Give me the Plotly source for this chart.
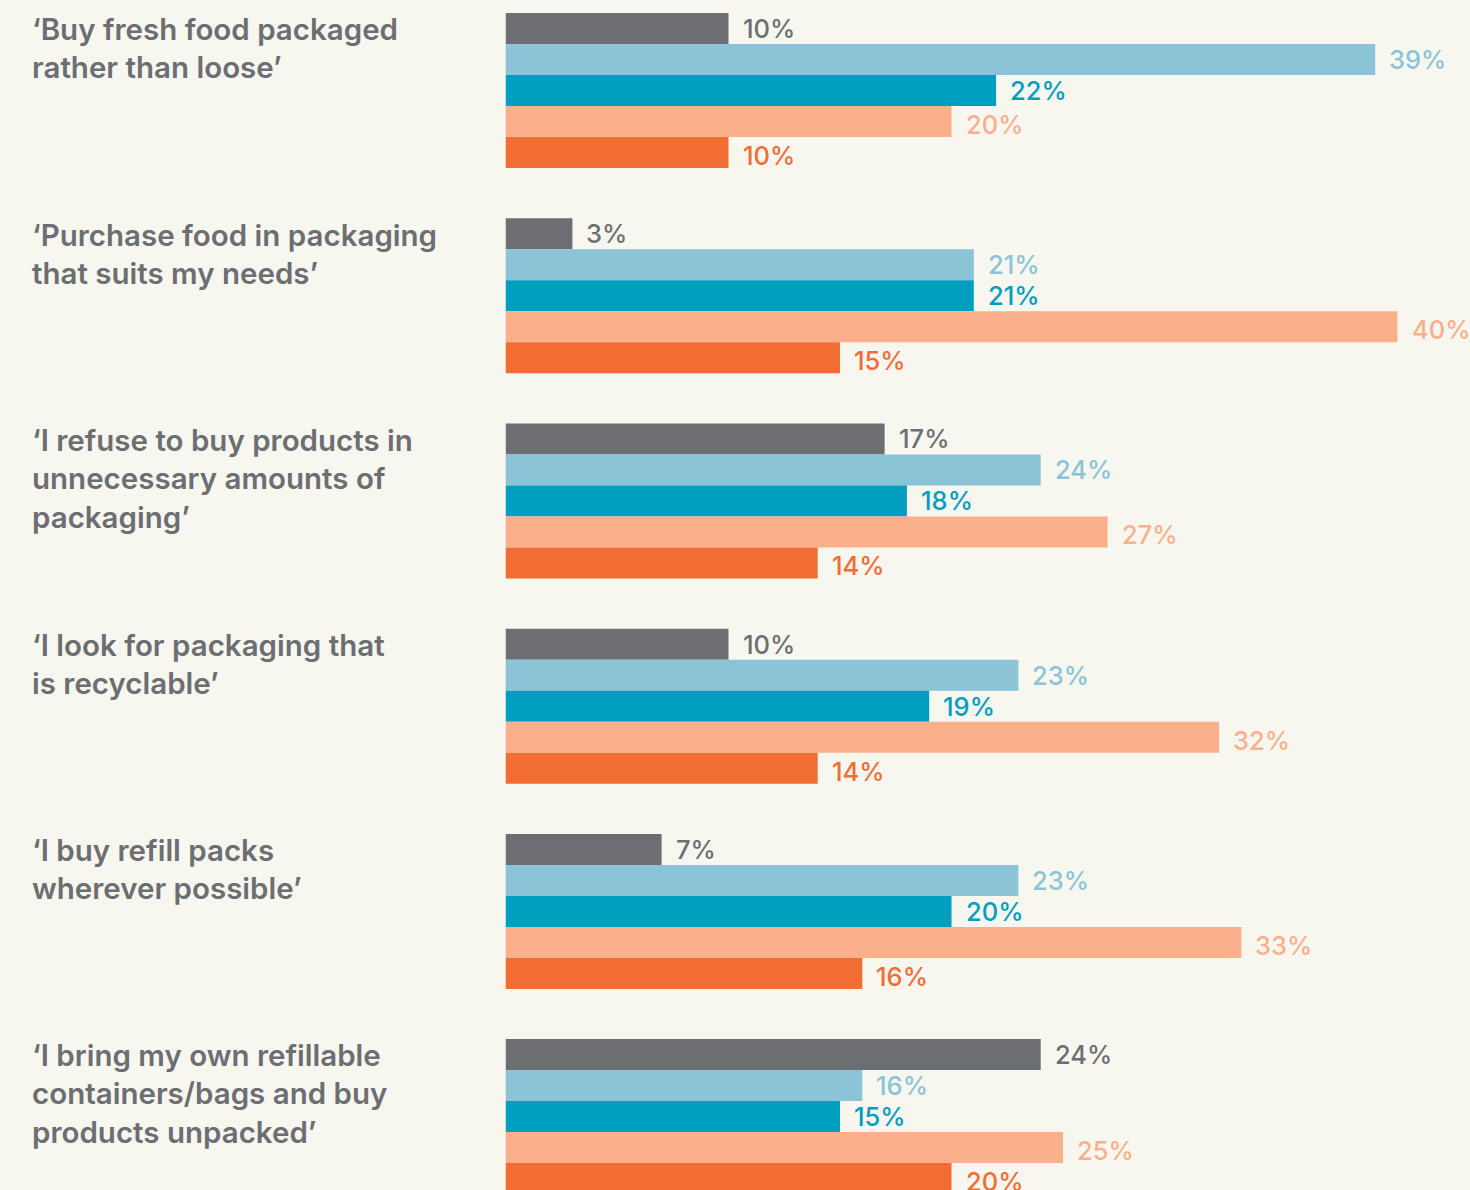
import plotly.graph_objects as go

categories = [
    "‘Buy fresh food packaged<br>rather than loose’",
    "‘Purchase food in packaging<br>that suits my needs’",
    "‘I refuse to buy products in<br>unnecessary amounts of<br>packaging’",
    "‘I look for packaging that<br>is recyclable’",
    "‘I buy refill packs<br>wherever possible’",
    "‘I bring my own refillable<br>containers/bags and buy<br>products unpacked’",
]

series_names = ["Series 1", "Series 2", "Series 3", "Series 4", "Series 5"]
series_values = [
    [10, 3, 17, 10, 7, 24],
    [39, 21, 24, 23, 23, 16],
    [22, 21, 18, 19, 20, 15],
    [20, 40, 27, 32, 33, 25],
    [10, 15, 14, 14, 16, 20],
]
series_colors = ["#6d6e72", "#8bc4d6", "#009ebf", "#fbb08c", "#f26d33"]
label_yshift = [0, 0, 0, -3, -3]

BG = "#f7f7f0"
GROUP_PITCH = 6.62
W, H = 1470, 1190
PX_PER_UNIT = 31.0
TOP_PX = 13.0
FONT = "Inter"

fig = go.Figure()
annotations = []
for s, (name, vals, col) in enumerate(zip(series_names, series_values, series_colors)):
    ys = [g * GROUP_PITCH + s + 0.5 for g in range(len(categories))]
    fig.add_trace(go.Bar(
        x=vals, y=ys, orientation="h", name=name,
        marker=dict(color=col, line=dict(width=0)),
        width=1.0, showlegend=False, hoverinfo="x",
    ))
    for v, y in zip(vals, ys):
        annotations.append(dict(
            x=v, y=y, xref="x", yref="y", text=f"{v}%",
            showarrow=False, xanchor="left", yanchor="middle",
            xshift=12, yshift=label_yshift[s],
            font=dict(family=FONT, size=25.5, color=col, weight=500),
        ))

for g, cat in enumerate(categories):
    annotations.append(dict(
        x=30 / W, y=g * GROUP_PITCH - 0.12, xref="paper", yref="y",
        text=cat, showarrow=False, xanchor="left", yanchor="top", align="left",
        font=dict(family=FONT, size=29.5, color="#6d6e72", weight=600),
    ))

x_start = 505.5
px_per_pct = 22.3
y_top = -TOP_PX / PX_PER_UNIT
y_bot = (H - TOP_PX) / PX_PER_UNIT

fig.update_layout(
    width=W, height=H,
    margin=dict(l=0, r=0, t=0, b=0),
    paper_bgcolor=BG, plot_bgcolor=BG,
    barmode="overlay",
    xaxis=dict(domain=[x_start / W, 1], range=[0, (W - x_start) / px_per_pct],
               visible=False, fixedrange=True),
    yaxis=dict(range=[y_bot, y_top], visible=False, fixedrange=True),
    annotations=annotations,
)

fig.write_html(
    "out.html",
    config={"displayModeBar": False},
    post_script="document.body.style.margin='0';document.body.style.overflow='hidden';",
)
